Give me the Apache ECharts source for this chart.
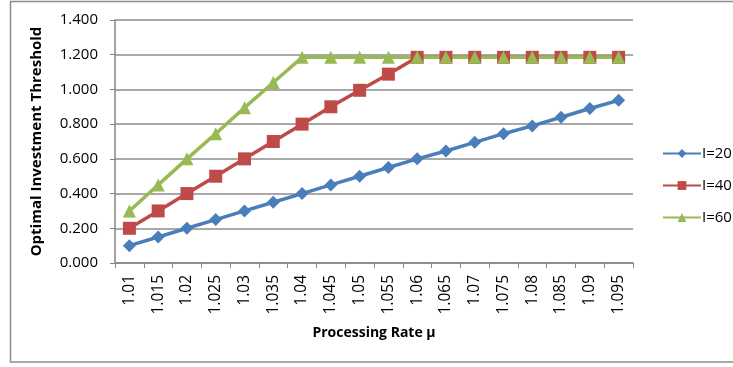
<!DOCTYPE html>
<html>
<head>
<meta charset="utf-8">
<script src="https://cdn.jsdelivr.net/npm/echarts@6/dist/echarts.min.js"></script>
<style>
  html, body { margin: 0; padding: 0; background: #fff; }
  #chart { width: 733px; height: 367px; }
</style>
</head>
<body>
<div id="chart"></div>
<script>
// processing rate categories
var rates = ["1.01", "1.015", "1.02", "1.025", "1.03", "1.035", "1.04", "1.045", "1.05",
  "1.055", "1.06", "1.065", "1.07", "1.075", "1.08", "1.085", "1.09", "1.095"];
// optimal investment threshold per series
var l20 = [0.10, 0.15, 0.20, 0.25, 0.30, 0.35, 0.40, 0.45, 0.50, 0.55, 0.60, 0.645, 0.695, 0.745, 0.79, 0.84, 0.89, 0.937];
var l40 = [0.20, 0.30, 0.40, 0.50, 0.60, 0.70, 0.80, 0.90, 0.995, 1.088, 1.185, 1.185, 1.185, 1.185, 1.185, 1.185, 1.185, 1.185];
var l60 = [0.30, 0.45, 0.60, 0.745, 0.895, 1.04, 1.185, 1.185, 1.185, 1.185, 1.185, 1.185, 1.185, 1.185, 1.185, 1.185, 1.185, 1.185];
var yTicks = [0, 1.4, 0.2]; // min, max, step

var font = "'Open Sans', 'Liberation Sans', sans-serif";
var myChart = echarts.init(document.getElementById("chart"));

function line(name, data, color, symbol, size) {
  return {
    name: name,
    type: "line",
    data: data,
    symbol: symbol,
    symbolSize: size,
    lineStyle: { color: color, width: 3.5 },
    itemStyle: { color: color },
    animation: false
  };
}

myChart.setOption({
  animation: false,
  // outer frame
  graphic: [{
    type: "rect",
    shape: { x: 10.5, y: 1.5, width: 730, height: 360.5 },
    style: { fill: null, stroke: "#8c8c8c", lineWidth: 1.5 },
    silent: true
  }],
  grid: { left: 115, right: 100, top: 20, bottom: 104 },
  legend: {
    orient: "vertical",
    left: 657,
    top: 141,
    itemWidth: 38,
    itemHeight: 11,
    itemGap: 17,
    textStyle: { fontFamily: font, fontSize: 15, color: "#000", padding: [0, 0, 0, -4] },
    data: ["I=20", "I=40", "I=60"]
  },
  xAxis: {
    type: "category",
    data: rates,
    boundaryGap: true,
    name: "Processing Rate μ",
    nameLocation: "middle",
    nameGap: 63,
    nameTextStyle: { fontFamily: font, fontSize: 14, fontWeight: "bold", color: "#000" },
    axisLine: { lineStyle: { color: "#868686", width: 1.5 } },
    axisTick: { show: true, alignWithLabel: false, length: 5, lineStyle: { color: "#868686" } },
    axisLabel: { rotate: 90, fontFamily: font, fontSize: 15.5, color: "#000", margin: 12 }
  },
  yAxis: {
    type: "value",
    min: yTicks[0],
    max: yTicks[1],
    interval: yTicks[2],
    name: "Optimal Investment Threshold",
    nameLocation: "middle",
    nameGap: 71,
    nameTextStyle: { fontFamily: font, fontSize: 15, fontWeight: "bold", color: "#000" },
    axisLine: { show: true, lineStyle: { color: "#868686", width: 1.5 } },
    axisTick: { show: true, length: 5, lineStyle: { color: "#868686" } },
    axisLabel: {
      fontFamily: font, fontSize: 15, color: "#000", margin: 17,
      formatter: function (v) { return v.toFixed(3); }
    },
    splitLine: { lineStyle: { color: "#8c8c8c", width: 1.5 } }
  },
  series: [
    line("I=20", l20, "#4A7EBB", "diamond", 13),
    line("I=40", l40, "#BE4B48", "rect", 13),
    line("I=60", l60, "#98B954", "triangle", 13)
  ]
});
</script>
</body>
</html>
